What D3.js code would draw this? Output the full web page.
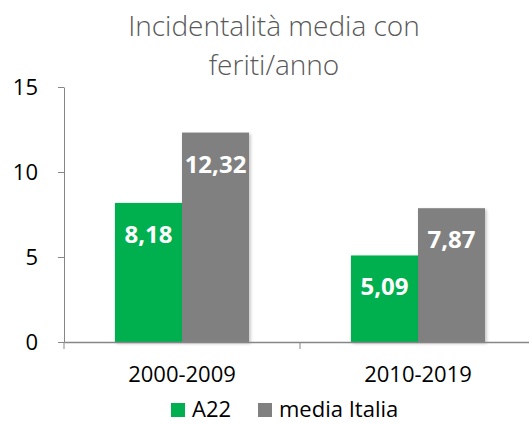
<!DOCTYPE html>
<html>
<head>
<meta charset="utf-8">
<script src="https://cdn.jsdelivr.net/npm/d3@7"></script>
<style>
  body { margin: 0; background: #fff; }
  svg { display: block; font-family: "Open Sans", sans-serif; }
</style>
</head>
<body>
<svg width="529" height="424"></svg>
<script>
const categories = ["2000-2009", "2010-2019"];
const seriesNames = ["A22", "media Italia"];
const a22 = [8.18, 5.09];
const mediaItalia = [12.32, 7.87];
const yTicks = [0, 5, 10, 15];
const titleLines = ["Incidentalità media con", "feriti/anno"];

const colors = ["#00B050", "#808080"];
const values = [a22, mediaItalia];

var svg = d3.select("svg");

var defs = svg.append("defs");
var f = defs.append("filter").attr("id", "shadow").attr("x", "-10%").attr("y", "-10%").attr("width", "130%").attr("height", "130%");
f.append("feDropShadow").attr("dx", 1.5).attr("dy", 1.5).attr("stdDeviation", 1.5).attr("flood-color", "#000").attr("flood-opacity", 0.25);

// title
svg.append("g").selectAll("text")
   .data(titleLines)
   .enter().append("text")
   .attr("x", 274)
   .attr("y", (d, i) => 36 + i * 39)
   .attr("text-anchor", "middle")
   .attr("fill", "#595959")
   .style("font-size", "28px")
   .style("font-weight", 300)
   .text(d => d);

var x = d3.scaleBand()
          .domain(categories)
          .range([64, 536])
          .padding(0);

var xs = d3.scaleBand()
           .domain(d3.range(seriesNames.length))
           .range([0, x.bandwidth()])
           .paddingInner(0)
           .paddingOuter(0.76);

var y = d3.scaleLinear()
          .domain([0, 15])
          .range([342, 87]);

// bars
var groups = svg.append("g").selectAll("g")
                .data(categories)
                .enter().append("g")
                .attr("transform", d => `translate(${x(d)},0)`);

groups.selectAll("rect")
      .data((d, i) => values.map((v, s) => ({ s: s, v: v[i] })))
      .enter().append("rect")
      .attr("x", d => xs(d.s))
      .attr("y", d => y(d.v))
      .attr("width", xs.bandwidth())
      .attr("height", d => y(0) - y(d.v))
      .attr("fill", d => colors[d.s])
      .attr("filter", "url(#shadow)");

groups.selectAll("text")
      .data((d, i) => values.map((v, s) => ({ s: s, v: v[i] })))
      .enter().append("text")
      .attr("x", d => xs(d.s) + xs.bandwidth() / 2)
      .attr("y", d => y(d.v) + 40)
      .attr("text-anchor", "middle")
      .attr("fill", "#fff")
      .style("font-size", "24px")
      .style("font-weight", "bold")
      .text(d => d.v.toFixed(2).replace(".", ","));

// y axis
var yaxis = svg.append("g")
               .attr("transform", "translate(64,0)")
               .call(d3.axisLeft(y).tickValues(yTicks).tickSize(6).tickSizeOuter(0).tickPadding(20));
yaxis.selectAll("line, path").attr("stroke", "#868686");
yaxis.selectAll("text").attr("fill", "#000").style("font-size", "22px").style("font-family", "Open Sans");

// x axis
var xaxis = svg.append("g")
               .attr("transform", `translate(0,${y(0)})`)
               .call(d3.axisBottom(x).tickSize(0).tickSizeOuter(0).tickPadding(24));
xaxis.select(".domain").attr("stroke", "#868686").attr("stroke-width", 1.5);
xaxis.selectAll("text").attr("fill", "#000").style("font-size", "22px").style("font-family", "Open Sans");
xaxis.selectAll(".bound")
     .data(categories.concat(["end"]))
     .enter().append("line")
     .attr("class", "bound")
     .attr("x1", (d, i) => 64 + i * x.step())
     .attr("x2", (d, i) => 64 + i * x.step())
     .attr("y1", 0)
     .attr("y2", 7)
     .attr("stroke", "#868686");

// legend
var legend = svg.append("g").attr("transform", "translate(171,402)");
var lx = [0, 87];
var li = legend.selectAll("g")
               .data(seriesNames)
               .enter().append("g")
               .attr("transform", (d, i) => `translate(${lx[i]},0)`);
li.append("rect").attr("y", 1).attr("width", 14).attr("height", 14).attr("fill", (d, i) => colors[i]);
li.append("text")
  .attr("x", 21)
  .attr("y", 15)
  .attr("fill", "#000")
  .style("font-size", "22px")
  .text(d => d);
</script>
</body>
</html>
